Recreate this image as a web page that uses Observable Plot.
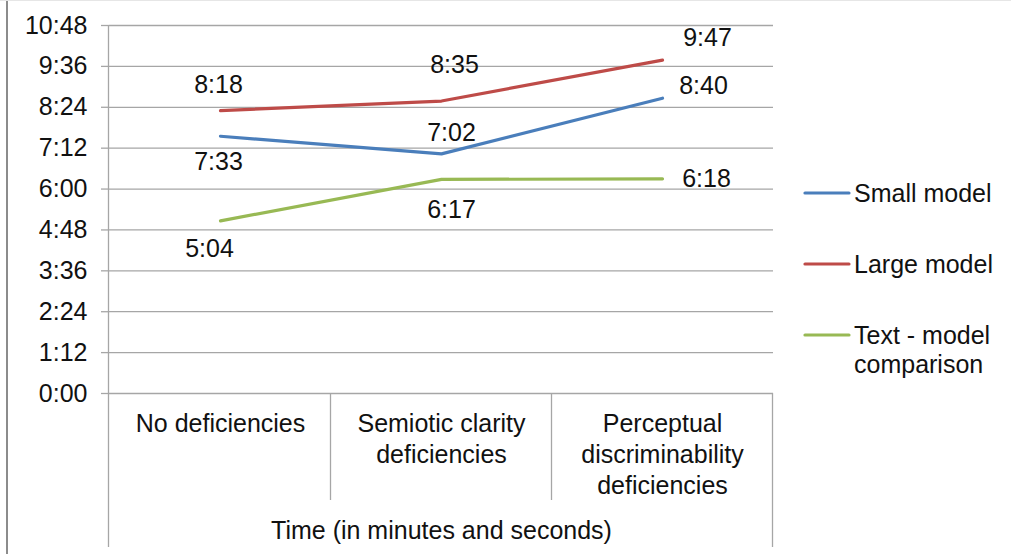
<!DOCTYPE html>
<html>
<head>
<meta charset="utf-8">
<script src="https://cdn.jsdelivr.net/npm/d3@7"></script>
<script src="https://cdn.jsdelivr.net/npm/@observablehq/plot@0.6"></script>
<style>
  html, body { margin: 0; padding: 0; background: #fff; }
  #chart { width: 1011px; height: 554px; }
</style>
</head>
<body>
<div id="chart"></div>
<script>
// ---- data ----
const categories = ["No deficiencies", "Semiotic clarity deficiencies", "Perceptual discriminability deficiencies"];
const categoryTickLabels = ["No deficiencies", "Semiotic clarity\ndeficiencies", "Perceptual\ndiscriminability\ndeficiencies"];
const seriesNames = ["Small model", "Large model", "Text - model comparison"];
const smallModel = ["7:33", "7:02", "8:40"];
const largeModel = ["8:18", "8:35", "9:47"];
const textModel  = ["5:04", "6:17", "6:18"];
const yTickLabels = ["0:00", "1:12", "2:24", "3:36", "4:48", "6:00", "7:12", "8:24", "9:36", "10:48"];
const xAxisTitle = "Time (in minutes and seconds)";

// ---- styles / layout (not data) ----
const colors = ["#4a7ebb", "#be4b48", "#98b954"];
// label offsets (dx, dy) per series per point, in pixels
const labelOffsets = [
  [[-2, 26], [10, -21], [41, -12]],
  [[-2, -26], [13, -36], [45, -22]],
  [[-11, 28], [10, 31], [44, 0]]
];

const toSec = s => { const [m, ss] = s.split(":").map(Number); return m * 60 + ss; };
const fmt = v => `${Math.floor(v / 60)}:${String(Math.round(v % 60)).padStart(2, "0")}`;

const seriesValues = [smallModel, largeModel, textModel];
const rows = [];
seriesValues.forEach((vals, si) => {
  vals.forEach((v, ci) => {
    rows.push({series: seriesNames[si], category: categories[ci], value: toSec(v), label: v,
               dx: labelOffsets[si][ci][0], dy: labelOffsets[si][ci][1]});
  });
});
const yTicks = yTickLabels.map(toSec);

const W = 1011, H = 554, mL = 109, mR = 238, mT = 25, mB = 161;
const FONT = "'Liberation Sans', Arial, sans-serif";
const GRID = "#a6a6a6";

const chart = Plot.plot({
  width: W, height: H,
  marginLeft: mL, marginRight: mR, marginTop: mT, marginBottom: mB,
  style: {fontFamily: FONT, fontSize: "25px", background: "#fff", color: "#111", overflow: "visible"},
  x: {type: "point", domain: categories, padding: 0.5, axis: null},
  y: {domain: [0, yTicks[yTicks.length - 1]], ticks: yTicks, tickFormat: fmt, tickSize: 8, tickPadding: 14, label: null},
  color: {domain: seriesNames, range: colors},
  marks: [
    Plot.ruleY(yTicks, {stroke: GRID, strokeWidth: 1.3}),
    Plot.line(rows, {x: "category", y: "value", z: "series", stroke: "series", strokeWidth: 3.2, strokeLinejoin: "round", strokeLinecap: "round"}),
    ...rows.map(r => Plot.text([r], {x: "category", y: "value", text: "label", dx: r.dx, dy: r.dy,
      fill: "#111", fontSize: 25, lineAnchor: "middle", textAnchor: "middle"})),
    Plot.text(categories, {x: d => d, text: (d, i) => categoryTickLabels[i], frameAnchor: "bottom",
      lineAnchor: "top", dy: 16, lineHeight: 1.24, fill: "#111", fontSize: 25}),
    Plot.text([xAxisTitle], {frameAnchor: "bottom", lineAnchor: "middle", dy: 137, fill: "#111", fontSize: 25})
  ]
});

document.getElementById("chart").appendChild(chart);

// ---- axis decorations & legend, drawn with the chart's own scales ----
const svg = d3.select(chart);
svg.selectAll("g[aria-label^='y-axis'] line, g[aria-label^='y-axis'] path").attr("stroke", GRID).attr("stroke-width", 1.3).attr("stroke-opacity", 1);
svg.selectAll("g[aria-label^='y-axis'] text").attr("fill", "#111");

const xs = chart.scale("x");
const ys = chart.scale("y");
const step = xs.apply(categories[1]) - xs.apply(categories[0]);
const y0 = ys.apply(0);
const axisBottom = H - 7;
const sepBottom = 500;
const deco = svg.append("g").attr("stroke", GRID).attr("stroke-width", 1.3);
// y axis line
deco.append("line").attr("x1", mL - 0.5).attr("x2", mL - 0.5).attr("y1", ys.apply(yTicks[yTicks.length - 1])).attr("y2", axisBottom);
// right edge of category axis
const lastX = xs.apply(categories[categories.length - 1]) + step / 2;
deco.append("line").attr("x1", lastX).attr("x2", lastX).attr("y1", y0).attr("y2", axisBottom);
// separators between categories
categories.slice(1).forEach(c => {
  const x = xs.apply(c) - step / 2;
  deco.append("line").attr("x1", x).attr("x2", x).attr("y1", y0).attr("y2", sepBottom);
});

// outer border
svg.append("line").attr("x1", 7).attr("x2", 7).attr("y1", 0).attr("y2", H).attr("stroke", "#8c8c8c").attr("stroke-width", 2);
svg.append("line").attr("x1", 0).attr("x2", W).attr("y1", 0.5).attr("y2", 0.5).attr("stroke", "#e6e6e6").attr("stroke-width", 1);

// legend
const legendY = [193, 264, 335];
const legendLabels = [["Small model"], ["Large model"], ["Text - model", "comparison"]];
const lg = svg.append("g").attr("font-family", FONT).attr("font-size", 25).attr("fill", "#111").attr("text-anchor", "start");
seriesNames.forEach((s, i) => {
  lg.append("line").attr("x1", 805).attr("x2", 849).attr("y1", legendY[i]).attr("y2", legendY[i])
    .attr("stroke", colors[i]).attr("stroke-width", 3.2).attr("stroke-linecap", "round");
  legendLabels[i].forEach((t, j) => {
    lg.append("text").attr("x", 854).attr("y", legendY[i] + j * 29).attr("dy", "0.35em")
      .attr("text-anchor", "start").text(t);
  });
});
</script>
</body>
</html>
